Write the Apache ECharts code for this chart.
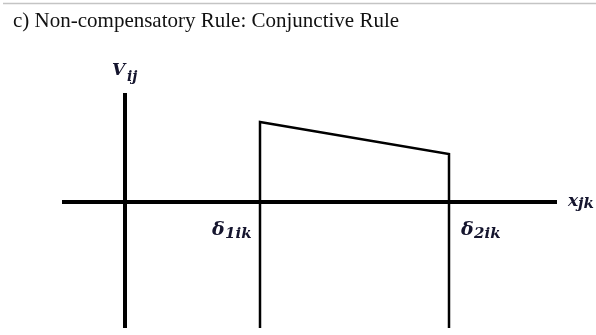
<!DOCTYPE html>
<html>
<head>
<meta charset="utf-8">
<script src="https://cdn.jsdelivr.net/npm/echarts@6/dist/echarts.min.js"></script>
<style>
html,body{margin:0;padding:0;background:#fff;}
#main{width:596px;height:335px;}
</style>
</head>
<body>
<div id="main"></div>
<script>
// ---- data (conceptual units) ----
const titleText = 'c) Non-compensatory Rule: Conjunctive Rule';
const xRange = [-1.4, 9.6];          // extent of horizontal axis line
const yRange = [-6.3, 5.45];         // extent of vertical axis line
const thresholds = [3, 7.2];         // δ1ik, δ2ik
const utilities = [4, 2.4];          // V_ij at δ1ik and δ2ik
const thresholdLabels = [['δ', '1ik'], ['δ', '2ik']];
const yLabel = ['V', 'ij'];
const xLabel = ['x', 'jk'];

const chart = echarts.init(document.getElementById('main'), null, {renderer: 'canvas'});
const ink = '#000';
const mathColor = '#15152e';
const mathFont = '"DejaVu Serif", "Liberation Serif", serif';

const ruleData = [
  [thresholds[0], yRange[0]],
  [thresholds[0], utilities[0]],
  [thresholds[1], utilities[1]],
  [thresholds[1], yRange[0]]
];

chart.setOption({
  animation: false,
  title: {
    text: titleText,
    left: 8, top: 6,
    textStyle: {fontFamily: '"Liberation Serif", "Times New Roman", serif', fontSize: 21, fontWeight: 'normal', color: '#111'}
  },
  grid: {left: 62, top: 93, width: 495, height: 235, containLabel: false},
  xAxis: {type: 'value', min: xRange[0], max: xRange[1], show: false},
  yAxis: {type: 'value', min: yRange[0], max: yRange[1], show: false},
  series: [
    {type: 'line', data: [[xRange[0], 0], [xRange[1], 0]], symbol: 'none',
     lineStyle: {color: ink, width: 4, cap: 'butt'}, silent: true},
    {type: 'line', data: [[0, yRange[0]], [0, yRange[1]]], symbol: 'none',
     lineStyle: {color: ink, width: 4, cap: 'butt'}, silent: true},
    {type: 'line', data: ruleData, symbol: 'none',
     lineStyle: {color: ink, width: 2.5, cap: 'butt', join: 'miter'}, silent: true}
  ]
});

function px(x, y) { return chart.convertToPixel({gridIndex: 0}, [x, y]); }

function mathLabel(main, sub, p, dx, dy, subDx, subDy, mainSize, subSize) {
  const base = {fontFamily: mathFont, fontWeight: 'bold', fontStyle: 'italic', fill: mathColor, verticalAlign: 'top', align: 'left'};
  return [
    {type: 'text', x: p[0] + dx, y: p[1] + dy,
     style: Object.assign({text: main, fontSize: mainSize}, base)},
    {type: 'text', x: p[0] + dx + subDx, y: p[1] + dy + subDy,
     style: Object.assign({text: sub, fontSize: subSize}, base)}
  ];
}

const topAxis = px(0, yRange[1]);
const endAxis = px(xRange[1], 0);
const d1 = px(thresholds[0], 0);
const d2 = px(thresholds[1], 0);

let g = [
  {type: 'line', shape: {x1: 3, y1: 3.5, x2: 596, y2: 3.5}, style: {stroke: '#c4c4c4', lineWidth: 1.5}}
];
g = g.concat(mathLabel(yLabel[0], yLabel[1], topAxis, -13, -31, 15, 8, 17, 14));
g = g.concat(mathLabel(xLabel[0], xLabel[1], endAxis, 11, -9, 10, 4, 17, 15));
g = g.concat(mathLabel(thresholdLabels[0][0], thresholdLabels[0][1], d1, -48, 19, 13, 6, 19, 15));
g = g.concat(mathLabel(thresholdLabels[1][0], thresholdLabels[1][1], d2, 12, 19, 13, 6, 19, 15));

chart.setOption({graphic: g});
</script>
</body>
</html>
